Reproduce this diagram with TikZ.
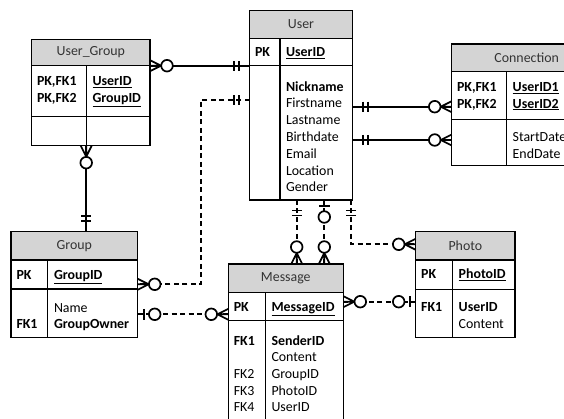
\documentclass[tikz,border=0pt]{standalone}
\usepackage{fontspec}
\setmainfont{Carlito}
\usetikzlibrary{calc}
\definecolor{hdr}{HTML}{D4D4D4}
\definecolor{hdrtext}{HTML}{333333}
\tikzset{
  box/.style={draw=black, line width=1.2pt, inner sep=0pt, outer sep=0pt, anchor=north west},
  hbox/.style={box, fill=hdr, text=hdrtext, font=\fontsize{13.9}{16.7}\selectfont},
  tline/.style={draw=black, line width=1.2pt},
  lbl/.style={anchor=base west, inner sep=0pt, outer sep=0pt, font=\fontsize{13.9}{16.7}\selectfont},
  rel/.style={line width=1.7pt},
  reld/.style={line width=1.7pt, dash pattern=on 5pt off 3.5pt},
  mk/.style={line width=1.7pt, solid},
  zmany/.pic={\draw[mk] (11,0) -- (0,5.5) (11,0) -- (0,-5.5) (11,0) -- (0,0);
              \draw[mk, fill=white] (17,0) circle (5.8);},
  oneone/.pic={\draw[mk] (10.5,-5) -- (10.5,5) (15.5,-5) -- (15.5,5);},
  zone/.pic={\draw[mk] (6,-5.5) -- (6,5.5); \draw[mk, fill=white] (17,0) circle (5.8);},
}
\newcommand{\ertbl}[9]{%
  \node[hbox, minimum width=#4pt, minimum height=#5pt] (#1-h) at (#2,#3) {#9};
  \node[box, minimum width=#4pt, minimum height=#6pt] (#1-k) at (#1-h.south west) {};
  \node[box, minimum width=#4pt, minimum height=#7pt] (#1-b) at (#1-k.south west) {};
  \draw[tline] ([xshift=#8pt]#1-k.north west) -- ([xshift=#8pt]#1-b.south west);
}
\newcommand{\fld}[4]{\node[lbl] (#1) at (#2,#3) {#4};}
\begin{document}
\begin{tikzpicture}[x=1pt, y=-1pt]
\clip (0,0) rectangle (564,419);
\fill[white] (0,0) rectangle (564,419);

% tables
\ertbl{user}{249.5}{10.5}{103}{28}{27}{134.5}{30.5}{User}
\ertbl{conn}{451.7}{44}{150}{27.7}{47.5}{46.5}{55}{Connection}
\ertbl{ug}{31.7}{39.3}{118.3}{26.4}{51}{29}{54.5}{User\_Group}
\ertbl{grp}{11}{231.7}{126.7}{28.3}{29}{48.3}{36.7}{Group}
\ertbl{msg}{228.3}{264}{115}{28.3}{28.4}{120}{37.4}{Message}
\ertbl{pho}{415.7}{231.7}{99.3}{28.3}{29.3}{48}{37}{Photo}

% User
\fld{u1}{255}{56.5}{\textbf{PK}}
\fld{u2}{286}{56.5}{\underline{\textbf{UserID}}}
\fld{u3}{286}{91.2}{\textbf{Nickname}}
\fld{u4}{286}{108}{Firstname}
\fld{u5}{286}{124.8}{Lastname}
\fld{u6}{286}{141.6}{Birthdate}
\fld{u7}{286}{158.4}{Email}
\fld{u8}{286}{175.2}{Location}
\fld{u9}{286}{192}{Gender}
% Connection
\fld{c1}{457}{91.8}{\textbf{PK,FK1}}
\fld{c2}{457}{108.2}{\textbf{PK,FK2}}
\fld{c3}{512.7}{91.8}{\underline{\textbf{UserID1}}}
\fld{c4}{512.7}{108.2}{\underline{\textbf{UserID2}}}
\fld{c5}{512.7}{141.8}{StartDate}
\fld{c6}{512.7}{158.5}{EndDate}
% User_Group
\fld{g1}{37}{85.5}{\textbf{PK,FK1}}
\fld{g2}{37}{102.2}{\textbf{PK,FK2}}
\fld{g3}{92.5}{85.5}{\underline{\textbf{UserID}}}
\fld{g4}{92.5}{102.2}{\underline{\textbf{GroupID}}}
% Group
\fld{r1}{16.5}{279.5}{\textbf{PK}}
\fld{r2}{54}{279.5}{\underline{\textbf{GroupID}}}
\fld{r3}{54}{312.2}{Name}
\fld{r4}{16.5}{328.7}{\textbf{FK1}}
\fld{r5}{54}{328.7}{\textbf{GroupOwner}}
% Message
\fld{m1}{233.8}{311.8}{\textbf{PK}}
\fld{m2}{271.5}{311.8}{\underline{\textbf{MessageID}}}
\fld{m3}{233.8}{345.2}{\textbf{FK1}}
\fld{m4}{271.5}{345.2}{\textbf{SenderID}}
\fld{m5}{271.5}{361.8}{Content}
\fld{m6}{233.8}{378.5}{FK2}
\fld{m7}{271.5}{378.5}{GroupID}
\fld{m8}{233.8}{395.2}{FK3}
\fld{m9}{271.5}{395.2}{PhotoID}
\fld{m10}{233.8}{411.8}{FK4}
\fld{m11}{271.5}{411.8}{UserID}
% Photo
\fld{p1}{421.2}{278.5}{\textbf{PK}}
\fld{p2}{458.7}{278.5}{\underline{\textbf{PhotoID}}}
\fld{p3}{421.2}{311.8}{\textbf{FK1}}
\fld{p4}{458.7}{311.8}{\textbf{UserID}}
\fld{p5}{458.7}{328.5}{Content}

% connectors
\draw[rel] (ug-h.south east) -- (ug-h.south east -| user-b.west);
\draw[rel] (user-b.east |- 0,106.7) -- (conn-k.west |- 0,106.7);
\draw[rel] (user-b.east |- 0,140) -- (conn-b.west |- 0,140);
\draw[reld] (user-b.west |- 0,100) -- (201,100) -- (201,284.3) -- (grp-k.east |- 0,284.3);
\draw[rel] (ug-b.south -| 86.2,0) -- (grp-h.north -| 86.2,0);
\draw[reld] (grp-b.east |- 0,314.3) -- (msg-k.west |- 0,314.3);
\draw[reld] (user-b.south -| 296.7,0) -- (msg-h.north -| 296.7,0);
\draw[reld] (user-b.south -| 324.3,0) -- (msg-h.north -| 324.3,0);
\draw[reld] (user-b.south -| 351,0) -- (351,244.3) -- (pho-h.west |- 0,244.3);
\draw[reld] (msg-k.east |- 0,301.7) -- (pho-b.west |- 0,301.7);

% markers
\pic at (ug-h.south east) {zmany};
\pic[rotate=180] at (ug-h.south east -| user-b.west) {oneone};
\pic at (user-b.east |- 0,106.7) {oneone};
\pic[rotate=180] at (conn-k.west |- 0,106.7) {zmany};
\pic at (user-b.east |- 0,140) {oneone};
\pic[rotate=180] at (conn-b.west |- 0,140) {zmany};
\pic[rotate=180] at (user-b.west |- 0,100) {oneone};
\pic at (grp-k.east |- 0,284.3) {zmany};
\pic[rotate=-90] at (ug-b.south -| 86.2,0) {zmany};
\pic[rotate=90] at (grp-h.north -| 86.2,0) {oneone};
\pic at (grp-b.east |- 0,314.3) {zone};
\pic[rotate=180] at (msg-k.west |- 0,314.3) {zmany};
\pic[rotate=-90] at (user-b.south -| 296.7,0) {oneone};
\pic[rotate=90] at (msg-h.north -| 296.7,0) {zmany};
\pic[rotate=-90] at (user-b.south -| 324.3,0) {zone};
\pic[rotate=90] at (msg-h.north -| 324.3,0) {zmany};
\pic[rotate=-90] at (user-b.south -| 351,0) {oneone};
\pic[rotate=180] at (pho-h.west |- 0,244.3) {zmany};
\pic at (msg-k.east |- 0,301.7) {zmany};
\pic[rotate=180] at (pho-b.west |- 0,301.7) {zone};
\end{tikzpicture}
\end{document}
